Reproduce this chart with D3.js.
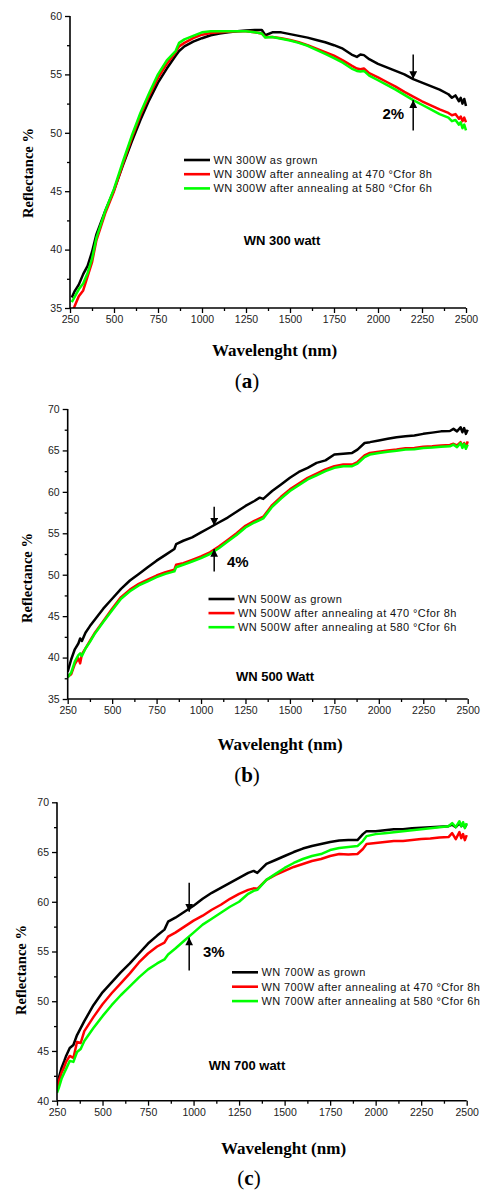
<!DOCTYPE html>
<html>
<head>
<meta charset="utf-8">
<script src="https://cdn.jsdelivr.net/npm/d3@7"></script>
<style>
  html, body { margin: 0; padding: 0; background: #fff; }
  svg { display: block; }
  .tick text { font-family: Arial, "Liberation Sans", sans-serif; font-size: 10.5px; fill: #222; }
</style>
</head>
<body>
<svg id="chart" width="489" height="1194"></svg>
<script>
// ---------- Panel (a): WN 300 W ----------
const wlA = [260,275,300,325,350,375,400,450,500,550,600,650,700,750,800,850,870,900,950,1000,
  1050,1100,1150,1200,1250,1300,1340,1360,1400,1450,1500,1550,1600,1650,1700,1750,1800,1850,1880,1900,
  1920,1950,2000,2050,2100,2150,2200,2250,2300,2350,2400,2420,2440,2460,2470,2480,2490,2500];
const grownA = [35.9,36.4,37.0,37.9,38.6,39.8,41.3,43.3,45.1,47.2,49.2,51.1,52.8,54.3,55.5,56.6,57.0,57.4,57.8,58.1,
  58.35,58.5,58.6,58.7,58.75,58.8,58.8,58.35,58.6,58.6,58.45,58.3,58.15,57.95,57.75,57.5,57.2,56.7,56.5,56.7,
  56.65,56.3,55.9,55.6,55.3,55.0,54.6,54.3,54.0,53.7,53.3,53.0,53.2,52.7,53.0,52.5,52.9,52.3];
const ann470A = [34.7,35.1,36.0,36.5,37.7,38.9,40.8,43.1,45.0,47.3,49.5,51.5,53.2,54.7,55.9,56.9,57.4,57.7,58.1,58.4,
  58.55,58.6,58.65,58.7,58.7,58.6,58.5,58.2,58.2,58.1,57.95,57.75,57.5,57.2,56.9,56.6,56.2,55.75,55.5,55.45,
  55.5,55.1,54.75,54.35,53.95,53.5,53.1,52.7,52.35,52.0,51.7,51.5,51.6,51.2,51.4,51.0,51.3,50.9];
const ann580A = [35.5,35.9,36.6,37.1,38.0,39.2,41.0,43.3,45.2,47.5,49.7,51.7,53.4,55.0,56.2,57.0,57.7,58.0,58.3,58.6,
  58.7,58.7,58.7,58.7,58.7,58.6,58.5,58.15,58.2,58.05,57.9,57.7,57.45,57.1,56.75,56.4,56.0,55.5,55.3,55.25,
  55.3,54.9,54.5,54.1,53.7,53.25,52.8,52.4,52.0,51.6,51.3,51.0,51.1,50.7,50.9,50.4,50.7,50.2];

// ---------- Panel (b): WN 500 W ----------
const wlB = [250,270,290,310,320,330,350,375,400,450,500,550,600,650,700,750,800,850,860,900,
  950,1000,1050,1100,1150,1200,1250,1300,1330,1350,1400,1450,1500,1550,1600,1650,1700,1750,1800,1850,
  1880,1920,1950,2000,2050,2100,2150,2200,2250,2300,2350,2400,2420,2440,2460,2470,2480,2490,2500];
const grownB = [38.3,39.8,41.0,41.7,42.3,42.0,43.0,43.8,44.5,45.9,47.1,48.3,49.3,50.1,50.9,51.7,52.4,53.1,53.7,54.1,
  54.5,55.1,55.7,56.3,56.9,57.6,58.3,58.9,59.3,59.15,60.1,60.9,61.7,62.4,62.9,63.5,63.8,64.5,64.6,64.7,
  65.1,65.9,66.0,66.2,66.4,66.6,66.7,66.8,67.0,67.15,67.3,67.35,67.6,67.3,67.8,67.2,67.7,67.0,67.5];
const ann470B = [37.7,38.0,39.2,39.9,39.3,40.4,41.1,42.0,42.9,44.4,45.9,47.3,48.2,48.9,49.4,49.9,50.3,50.6,51.2,51.4,
  51.8,52.2,52.7,53.4,54.2,55.0,55.9,56.5,56.8,57.0,58.4,59.4,60.3,61.0,61.7,62.2,62.7,63.1,63.3,63.3,
  63.6,64.4,64.7,64.85,65.0,65.1,65.25,65.3,65.45,65.5,65.6,65.65,65.8,65.6,66.0,65.5,65.9,65.4,66.1];
const ann580B = [37.6,38.2,39.5,40.3,40.5,40.2,41.1,41.9,42.8,44.3,45.7,47.1,48.0,48.7,49.2,49.7,50.1,50.4,50.9,51.2,
  51.6,52.0,52.5,53.2,54.0,54.8,55.7,56.3,56.6,56.8,58.2,59.2,60.1,60.8,61.5,62.0,62.5,62.9,63.1,63.1,
  63.4,64.2,64.5,64.7,64.85,64.95,65.1,65.15,65.3,65.35,65.45,65.5,65.7,65.4,65.9,65.3,65.8,65.2,65.7];

// ---------- Panel (c): WN 700 W ----------
const wlC = [250,260,275,290,300,320,340,360,380,400,450,500,550,600,650,700,750,800,840,860,
  900,950,1000,1050,1100,1150,1200,1250,1300,1330,1350,1400,1450,1500,1550,1600,1650,1700,1750,1800,
  1850,1900,1930,1950,2000,2050,2100,2150,2200,2250,2300,2350,2400,2420,2440,2460,2470,2480,2490,2500];
const grownC = [41.1,42.3,43.3,44.0,44.5,45.3,45.6,46.6,47.3,48.0,49.6,50.9,51.9,52.9,53.8,54.8,55.8,56.6,57.2,58.0,
  58.4,59.0,59.6,60.3,60.9,61.4,61.9,62.4,62.9,63.1,62.9,63.8,64.2,64.6,65.0,65.35,65.6,65.8,66.0,66.15,
  66.2,66.2,66.8,67.1,67.1,67.2,67.3,67.3,67.4,67.45,67.5,67.55,67.6,67.75,67.5,67.9,67.6,67.8,67.5,67.8];
const ann470C = [41.0,42.0,42.8,43.4,43.9,44.5,44.3,45.9,45.8,47.0,48.4,49.7,50.8,51.8,52.8,53.9,54.8,55.5,55.9,56.5,
  56.9,57.5,58.1,58.6,59.2,59.7,60.3,60.8,61.2,61.35,61.3,62.2,62.7,63.1,63.5,63.8,64.1,64.3,64.6,64.8,
  64.75,64.8,65.3,65.8,65.9,66.0,66.1,66.1,66.2,66.3,66.35,66.45,66.5,66.9,66.3,67.0,66.4,66.8,66.2,66.7];
const ann580C = [40.8,41.3,42.2,42.8,43.2,44.0,43.9,44.9,45.2,46.0,47.3,48.5,49.6,50.6,51.5,52.4,53.2,53.8,54.2,54.7,
  55.3,56.1,56.9,57.7,58.3,58.9,59.5,60.0,60.8,61.1,61.2,62.2,62.8,63.4,63.9,64.3,64.6,64.8,65.2,65.4,
  65.5,65.6,66.1,66.6,66.8,66.9,67.0,67.1,67.2,67.3,67.4,67.5,67.6,67.9,67.5,68.1,67.6,68.0,67.4,67.9];

// ---------- Axis ticks and labels ----------
const xTicks = [250,500,750,1000,1250,1500,1750,2000,2250,2500];
const xMinor = [375,625,875,1125,1375,1625,1875,2125,2375];
const yTicksA = [35,40,45,50,55,60];
const yTicksB = [35,40,45,50,55,60,65,70];
const yTicksC = [40,45,50,55,60,65,70];
const seriesColors = ["#000000", "#ff0000", "#00ff00"];
const xTitle = "Wavelenght (nm)";
const yTitle = "Reflectance %";

const svg = d3.select("#chart");
const defs = svg.append("defs");
defs.append("marker")
  .attr("id", "arrowhead")
  .attr("viewBox", "0 0 10 10")
  .attr("refX", 10).attr("refY", 5)
  .attr("markerWidth", 6.5).attr("markerHeight", 5.2)
  .attr("markerUnits", "strokeWidth")
  .attr("orient", "auto")
  .append("path").attr("d", "M0,0 L10,5 L0,10 Z").attr("fill", "#000");

function drawPanel(p) {
  const x = d3.scaleLinear().domain([250, 2500]).range([p.left, p.right]);
  const y = d3.scaleLinear().domain(p.yDomain).range([p.bottom, p.top]);
  const g = svg.append("g");

  const clipId = "clip-" + p.id;
  defs.append("clipPath").attr("id", clipId)
    .append("rect").attr("x", p.left).attr("y", p.top - 6)
    .attr("width", p.right - p.left + 3).attr("height", p.bottom - p.top + 6);

  // spectra
  const line = d3.line().x(d => x(d[0])).y(d => y(d[1]));
  const lines = g.append("g").attr("clip-path", `url(#${clipId})`);
  p.series.forEach((vals, i) => {
    lines.append("path")
      .datum(p.wl.map((w, k) => [w, vals[k]]))
      .attr("d", line)
      .attr("fill", "none")
      .attr("stroke", seriesColors[i])
      .attr("stroke-width", 2.5)
      .attr("stroke-linejoin", "round");
  });

  // axes: major ticks with labels, minor ticks without
  const xAxis = g.append("g").attr("transform", `translate(0,${p.bottom})`)
    .call(d3.axisBottom(x).tickValues(xTicks).tickSize(5).tickPadding(3).tickFormat(d3.format("d")));
  g.append("g").attr("transform", `translate(0,${p.bottom})`)
    .call(d3.axisBottom(x).tickValues(xMinor).tickSize(3).tickFormat(""))
    .select(".domain").remove();
  const yAxis = g.append("g").attr("transform", `translate(${p.left},0)`)
    .call(d3.axisLeft(y).tickValues(p.yTicks).tickSize(5).tickPadding(3).tickFormat(d3.format("d")));
  const yMinor = p.yTicks.slice(0, -1).map(v => v + 2.5);
  g.append("g").attr("transform", `translate(${p.left},0)`)
    .call(d3.axisLeft(y).tickValues(yMinor).tickSize(3).tickFormat(""))
    .select(".domain").remove();
  g.selectAll(".domain").attr("stroke", "#000").attr("stroke-width", 1.6);
  g.selectAll(".tick line").attr("stroke", "#000").attr("stroke-width", 1.3);
  xAxis.selectAll(".domain").attr("d", `M${p.left},0H${p.right}`);
  yAxis.selectAll(".domain").attr("d", `M0,${p.bottom}V${p.top}`);

  // axis titles
  g.append("text")
    .attr("x", p.xTitleX).attr("y", p.xTitleY)
    .attr("text-anchor", "middle")
    .style("font-family", "'Liberation Serif', 'Times New Roman', serif")
    .style("font-weight", "bold").style("font-size", "17px")
    .text(xTitle);
  g.append("text")
    .attr("transform", `translate(${p.yTitleX},${p.yTitleY}) rotate(-90)`)
    .attr("text-anchor", "middle")
    .attr("dominant-baseline", "central")
    .style("font-family", "'Liberation Serif', 'Times New Roman', serif")
    .style("font-weight", "bold").style("font-size", "14.5px")
    .text(yTitle);

  // legend
  const leg = g.append("g");
  p.legend.forEach((label, i) => {
    const ly = p.legendY + i * p.legendStep;
    leg.append("line")
      .attr("x1", p.legendX).attr("x2", p.legendX + 26)
      .attr("y1", ly).attr("y2", ly)
      .attr("stroke", seriesColors[i]).attr("stroke-width", 2.6);
    leg.append("text")
      .attr("x", p.legendX + 29.5).attr("y", ly)
      .attr("dominant-baseline", "central")
      .style("font-family", "Arial, 'Liberation Sans', sans-serif")
      .style("font-size", "11px").style("letter-spacing", "0.4px").style("fill", "#111")
      .text(label);
  });

  // sample name
  g.append("text")
    .attr("x", p.nameX).attr("y", p.nameY)
    .attr("text-anchor", "middle").attr("dominant-baseline", "central")
    .style("font-family", "Arial, 'Liberation Sans', sans-serif")
    .style("font-weight", "bold").style("font-size", "13px")
    .text(p.name);

  // difference markers
  const a = p.arrows;
  g.append("line")
    .attr("x1", x(a.wl)).attr("x2", x(a.wl))
    .attr("y1", y(a.downFrom)).attr("y2", y(a.downTo))
    .attr("stroke", "#000").attr("stroke-width", 1.5)
    .attr("marker-end", "url(#arrowhead)");
  g.append("line")
    .attr("x1", x(a.wl)).attr("x2", x(a.wl))
    .attr("y1", y(a.upFrom)).attr("y2", y(a.upTo))
    .attr("stroke", "#000").attr("stroke-width", 1.5)
    .attr("marker-end", "url(#arrowhead)");
  g.append("text")
    .attr("x", p.diffX).attr("y", p.diffY)
    .attr("dominant-baseline", "central")
    .style("font-family", "Arial, 'Liberation Sans', sans-serif")
    .style("font-weight", "bold").style("font-size", "15px")
    .text(a.label);

  // panel letter
  const cap = g.append("text")
    .attr("x", p.capX).attr("y", p.capY)
    .attr("text-anchor", "middle")
    .style("font-family", "'Liberation Serif', 'Times New Roman', serif")
    .style("font-size", "21px");
  cap.append("tspan").text("(");
  cap.append("tspan").style("font-weight", "bold").text(p.letter);
  cap.append("tspan").text(")");
}

drawPanel({
  id: "a", wl: wlA, series: [grownA, ann470A, ann580A],
  left: 70, right: 466, top: 16, bottom: 308, yDomain: [35, 60], yTicks: yTicksA,
  xTitleX: 274.5, xTitleY: 356, yTitleX: 28, yTitleY: 173,
  legend: ["WN 300W as grown", "WN 300W after annealing at 470 °Cfor 8h", "WN 300W after annealing at 580 °Cfor 6h"],
  legendX: 184, legendY: 160, legendStep: 14.2,
  name: "WN 300 watt", nameX: 282, nameY: 240,
  arrows: { wl: 2200, downFrom: 56.7, downTo: 54.6, upFrom: 50.2, upTo: 52.8, label: "2%" },
  diffX: 382.5, diffY: 113,
  letter: "a", capX: 247, capY: 388
});

drawPanel({
  id: "b", wl: wlB, series: [grownB, ann470B, ann580B],
  left: 67.7, right: 467.7, top: 409, bottom: 699, yDomain: [35, 70], yTicks: yTicksB,
  xTitleX: 280, xTitleY: 750, yTitleX: 27, yTitleY: 578,
  legend: ["WN 500W as grown", "WN 500W after annealing at 470 °Cfor 8h", "WN 500W after annealing at 580 °Cfor 6h"],
  legendX: 208.5, legendY: 599, legendStep: 14.1,
  name: "WN 500 Watt", nameX: 275, nameY: 676,
  arrows: { wl: 1074, downFrom: 58.2, downTo: 55.9, upFrom: 50.4, upTo: 53.1, label: "4%" },
  diffX: 227, diffY: 561,
  letter: "b", capX: 247, capY: 782
});

drawPanel({
  id: "c", wl: wlC, series: [grownC, ann470C, ann580C],
  left: 57, right: 466.7, top: 802.3, bottom: 1100.7, yDomain: [40, 70], yTicks: yTicksC,
  xTitleX: 283.5, xTitleY: 1154, yTitleX: 21, yTitleY: 970,
  legend: ["WN 700W as grown", "WN 700W after annealing at 470 °Cfor 8h", "WN 700W after annealing at 580 °Cfor 6h"],
  legendX: 232, legendY: 972.3, legendStep: 14.4,
  name: "WN 700 watt", nameX: 247, nameY: 1065,
  arrows: { wl: 976, downFrom: 61.9, downTo: 59.0, upFrom: 53.1, upTo: 56.4, label: "3%" },
  diffX: 203, diffY: 951,
  letter: "c", capX: 249, capY: 1185
});
</script>
</body>
</html>
